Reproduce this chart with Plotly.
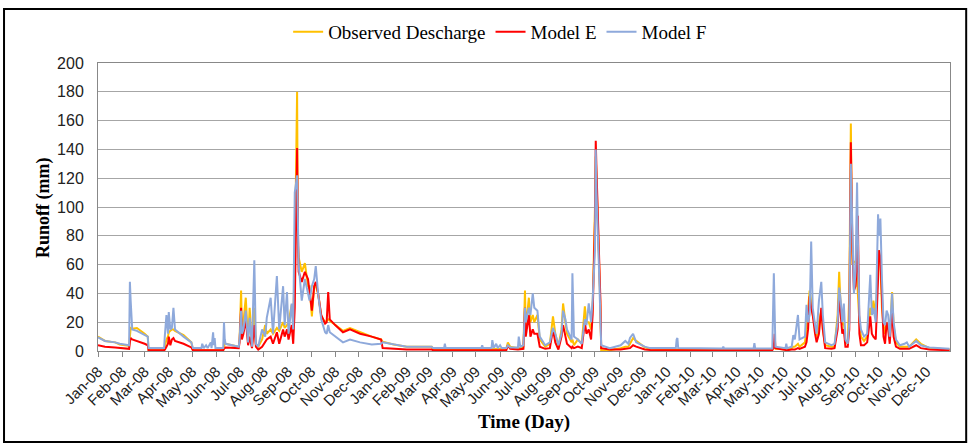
import plotly.graph_objects as go

dates = [
    "2008-01-01", "2008-01-10", "2008-01-23", "2008-01-29", "2008-02-10", "2008-02-11", "2008-02-12",
    "2008-02-14", "2008-02-20", "2008-03-01", "2008-03-05", "2008-03-06", "2008-03-26", "2008-03-27",
    "2008-03-29", "2008-03-31", "2008-04-01", "2008-04-03", "2008-04-05", "2008-04-07", "2008-04-09",
    "2008-04-20", "2008-04-30", "2008-05-02", "2008-05-13", "2008-05-14", "2008-05-16", "2008-05-19",
    "2008-05-21", "2008-05-25", "2008-05-26", "2008-05-28", "2008-05-29", "2008-05-30", "2008-05-31",
    "2008-06-10", "2008-06-11", "2008-06-12", "2008-06-13", "2008-06-30", "2008-07-01", "2008-07-03",
    "2008-07-04", "2008-07-06", "2008-07-09", "2008-07-12", "2008-07-14", "2008-07-17", "2008-07-20",
    "2008-07-22", "2008-07-25", "2008-07-30", "2008-08-03", "2008-08-05", "2008-08-10", "2008-08-13",
    "2008-08-18", "2008-08-21", "2008-08-26", "2008-08-28", "2008-08-31", "2008-09-02", "2008-09-06",
    "2008-09-08", "2008-09-10", "2008-09-13", "2008-09-14", "2008-09-15", "2008-09-19", "2008-09-23",
    "2008-09-27", "2008-09-29", "2008-10-02", "2008-10-05", "2008-10-07", "2008-10-10", "2008-10-14",
    "2008-10-19", "2008-10-21", "2008-10-23", "2008-10-25", "2008-11-01", "2008-11-11", "2008-11-20",
    "2008-12-03", "2008-12-18", "2008-12-30",
    "2009-01-01", "2009-01-15", "2009-02-01", "2009-03-05", "2009-03-07", "2009-03-21", "2009-03-22",
    "2009-03-23", "2009-05-08", "2009-05-09", "2009-05-10", "2009-05-21", "2009-05-22", "2009-05-24",
    "2009-05-27", "2009-05-29", "2009-06-01", "2009-06-03", "2009-06-09", "2009-06-11", "2009-06-14",
    "2009-06-24", "2009-06-25", "2009-06-27", "2009-07-01", "2009-07-03", "2009-07-04", "2009-07-08",
    "2009-07-10", "2009-07-13", "2009-07-15", "2009-07-19", "2009-07-22", "2009-07-29", "2009-08-04",
    "2009-08-08", "2009-08-11", "2009-08-15", "2009-08-19", "2009-08-21", "2009-08-24", "2009-08-26",
    "2009-09-01", "2009-09-02", "2009-09-04", "2009-09-09", "2009-09-14", "2009-09-18", "2009-09-20",
    "2009-09-23", "2009-09-26", "2009-09-28", "2009-10-01", "2009-10-02", "2009-10-03", "2009-10-06",
    "2009-10-08", "2009-10-09", "2009-10-20", "2009-11-03", "2009-11-09", "2009-11-13", "2009-11-15",
    "2009-11-19", "2009-11-23", "2009-12-04", "2009-12-11",
    "2010-01-13", "2010-01-14", "2010-01-15", "2010-01-16", "2010-03-14", "2010-03-15", "2010-03-16",
    "2010-04-23", "2010-04-24", "2010-04-25", "2010-05-17", "2010-05-19", "2010-05-20", "2010-05-21",
    "2010-06-03", "2010-06-04", "2010-06-05", "2010-06-11", "2010-06-13", "2010-06-15", "2010-06-19",
    "2010-06-21", "2010-06-28", "2010-06-30", "2010-07-02", "2010-07-04", "2010-07-06", "2010-07-08",
    "2010-07-11", "2010-07-13", "2010-07-16", "2010-07-19", "2010-07-21", "2010-07-24", "2010-08-01",
    "2010-08-05", "2010-08-09", "2010-08-11", "2010-08-13", "2010-08-15", "2010-08-17", "2010-08-19",
    "2010-08-22", "2010-08-24", "2010-08-26", "2010-08-28", "2010-08-30", "2010-09-01", "2010-09-03",
    "2010-09-04", "2010-09-06", "2010-09-08", "2010-09-12", "2010-09-16", "2010-09-20", "2010-09-22",
    "2010-09-24", "2010-09-27", "2010-09-30", "2010-10-01", "2010-10-03", "2010-10-05", "2010-10-07",
    "2010-10-09", "2010-10-11", "2010-10-13", "2010-10-15", "2010-10-18", "2010-10-20", "2010-10-23",
    "2010-10-28", "2010-11-03", "2010-11-06", "2010-11-09", "2010-11-18", "2010-11-24", "2010-12-05",
    "2010-12-31",
]

observed = [
    10, 7, 6, 4.5, 3.5, 10, 16,
    15.5, 16, 12, 10, 0.5, 0.5, 3,
    8, 10, 13, 14, 15, 15, 14,
    11, 6, 0.5, 0.5, 0.5, 0.5, 0.5,
    0.5, 0.5, 0.5, 0.5, 0.5, 0.5, 0.5,
    0.5, 3, 5, 5, 3, 8, 42,
    15, 20, 37, 6, 30, 4, 30,
    5, 3, 8, 18, 12, 15, 12,
    16, 14, 20, 16, 18, 20, 32,
    20, 60, 180, 75, 65, 55, 61,
    45, 45, 24, 45, 45, 40, 24,
    20, 21, 22, 21, 18, 14, 16,
    13, 10, 8,
    6.5, 4.5, 3, 3, 1, 1, 1,
    1, 1, 1, 1, 1, 1, 1,
    1, 1, 1, 1, 1.5, 6, 3,
    2, 2, 2, 3, 42, 15, 37,
    20, 25, 20, 25, 8, 3, 5,
    24, 12, 3, 15, 33, 20, 12,
    6, 8, 4, 8, 5, 31, 20,
    20, 15, 30, 100, 135, 120, 70,
    30, 0.5, 0.5, 2, 3, 3, 5,
    9, 7, 2.5, 1.5,
    1, 1, 1, 1, 1, 1, 1,
    1, 1, 1, 1, 3, 3, 1.5,
    1, 1, 1, 2, 3, 3, 5,
    3, 6, 15, 30, 42, 35, 25,
    18, 10, 20, 28, 15, 4, 3,
    3, 25, 55, 30, 18, 20, 6,
    5, 40, 158, 60, 62, 62, 50,
    40, 20, 10, 7, 10, 30, 25,
    35, 25, 55, 70, 60, 30, 18,
    12, 20, 18, 8, 41, 18, 6,
    3, 3, 3, 3, 8, 5, 2,
    1,
]

model_e = [
    4, 3, 2.5, 2, 1.5, 6, 9,
    8, 7, 5, 4, 0.5, 0.5, 1,
    3, 5, 10, 4, 8, 9, 7,
    5, 2.5, 0.5, 0.5, 0.5, 0.5, 0.5,
    0.5, 0.5, 0.5, 0.5, 0.5, 0.5, 0.5,
    0.5, 1.5, 2.5, 2.5, 2, 6, 30,
    8, 12, 22, 4, 10, 2, 18,
    3, 1, 3, 6, 8, 10, 5,
    13, 5, 15, 10, 15, 8, 18,
    5, 30, 141, 85, 55, 48, 55,
    50, 40, 28, 45, 48, 40, 25,
    19, 20, 41, 22, 18, 13, 15,
    12, 10, 8,
    2, 1.5, 1, 1, 0.5, 0.5, 0.5,
    0.5, 0.5, 0.5, 0.5, 0.5, 0.5, 0.5,
    0.5, 0.5, 0.5, 0.5, 0.5, 4, 1.5,
    1, 1, 1, 1.5, 30, 10, 25,
    10, 15, 12, 12, 3, 1.5, 2,
    15, 6, 1, 10, 18, 10, 5,
    2, 3, 2, 3, 2, 20, 12,
    15, 8, 25, 90, 146, 125, 75,
    35, 2, 1, 1, 1.5, 1.5, 2,
    4, 3, 1, 0.7,
    0.5, 0.5, 0.5, 0.5, 0.5, 0.5, 0.5,
    0.5, 0.5, 0.5, 0.5, 3, 12, 2,
    0.5, 0.5, 0.5, 1, 1, 1, 2,
    1.5, 3, 6, 15, 38, 30, 25,
    12, 6, 12, 30, 15, 2, 1.5,
    2, 15, 40, 25, 12, 15, 3,
    3, 15, 145, 70, 42, 45, 60,
    94, 12, 4, 4, 6, 24, 12,
    10, 8, 50, 70, 65, 40, 10,
    5, 20, 15, 5, 30, 10, 3,
    1.5, 1.5, 1.5, 1.5, 4, 2, 1,
    0.5,
]

model_f = [
    9.5, 7, 6, 5, 4, 48, 35,
    15, 14, 11, 10, 2, 2, 11,
    25, 12, 27, 15, 16, 30, 15,
    10, 6, 2, 2, 5, 2, 4,
    2, 6, 2, 13, 4, 9, 2,
    2, 20, 8, 5, 3, 8, 28,
    12, 15, 28, 6, 23, 3, 63,
    5, 3, 15, 10, 23, 37, 12,
    52, 15, 45, 18, 41, 12, 33,
    15, 110, 122, 80, 60, 35, 50,
    40, 35, 45, 50, 59, 40, 22,
    13, 12, 18, 13, 10, 6, 8,
    6, 4.5, 5,
    6, 4.5, 3, 3, 2, 2, 5,
    2, 2, 4, 2, 2, 7.5, 2,
    5, 2, 4, 2, 2, 4, 2.5,
    2.5, 10, 3, 4, 30, 20, 30,
    25, 40, 30, 28, 10, 4, 6,
    16, 12, 4, 12, 28, 22, 15,
    8, 54, 10, 8, 5, 22, 18,
    33, 20, 35, 70, 140, 110, 60,
    25, 4, 2, 4, 7, 5, 9,
    12, 6, 3, 2,
    2, 8, 9, 2, 1.8, 3, 1.8,
    1.8, 5.5, 1.8, 1.8, 54, 30, 3,
    2, 5, 2, 3, 11, 8, 25,
    8, 10, 32, 20, 25, 76, 30,
    18, 12, 35, 48, 25, 6, 4,
    5, 20, 44, 35, 20, 33, 8,
    5, 20, 130, 80, 40, 55, 117,
    80, 25, 15, 10, 12, 53, 25,
    30, 20, 95, 80, 92, 50, 20,
    18, 28, 25, 10, 40, 20, 8,
    4, 5, 6, 3, 7, 4, 2.5,
    1.5,
]

series_names = ["Observed Descharge", "Model E", "Model F"]
series_colors = ["#FFC000", "#FF0000", "#8EA9DB"]

fig = go.Figure()
for name, vals, col in zip(series_names, [observed, model_e, model_f], series_colors):
    fig.add_trace(go.Scatter(x=dates, y=vals, mode="lines", name=name,
                             line=dict(color=col, width=2)))

fig.update_layout(
    width=969, height=445,
    margin=dict(l=98, r=19, t=63, b=94),
    paper_bgcolor="white", plot_bgcolor="white",
    showlegend=True,
    legend=dict(orientation="h", x=0.472, xanchor="center", y=1.108, yanchor="middle",
                font=dict(family="Liberation Serif", size=19, color="#000"),
                itemwidth=30, bgcolor="rgba(0,0,0,0)"),
    xaxis=dict(type="date", range=["2008-01-01", "2010-12-31 12:00"], tick0="2008-01-01", dtick="M1",
               tickformat="%b-%y", tickangle=-45, ticks="outside", ticklen=5, tickcolor="#888",
               showline=True, linecolor="#888", linewidth=1, mirror=True, showgrid=False,
               tickfont=dict(family="Liberation Sans", size=15, color="#222")),
    yaxis=dict(range=[0, 200], dtick=20, showgrid=True, gridcolor="#a6a6a6", gridwidth=1,
               showline=True, linecolor="#888", linewidth=1, mirror=True, zeroline=False,
               ticks="", ticklabelstandoff=10,
               tickfont=dict(family="Liberation Sans", size=16, color="#222")),
    annotations=[
        dict(text="<b>Runoff (mm)</b>", xref="paper", yref="paper", x=-0.0646, y=0.5,
             xanchor="center", yanchor="middle",
             textangle=-90, showarrow=False, font=dict(family="Liberation Serif", size=18, color="#000")),
        dict(text="<b>Time (Day)</b>", xref="paper", yref="paper", x=0.5, y=-0.247,
             xanchor="center", yanchor="middle",
             showarrow=False, font=dict(family="Liberation Serif", size=19, color="#000")),
    ],
    shapes=[
        dict(type="rect", xref="paper", yref="paper", x0=-0.1103, x1=1.019, y0=-0.316, y1=1.1875,
             line=dict(color="#000", width=2), fillcolor="rgba(0,0,0,0)", layer="below"),
    ],
)

fig.write_html("out.html", config={"displayModeBar": False},
               post_script="document.body.style.margin='0';")
